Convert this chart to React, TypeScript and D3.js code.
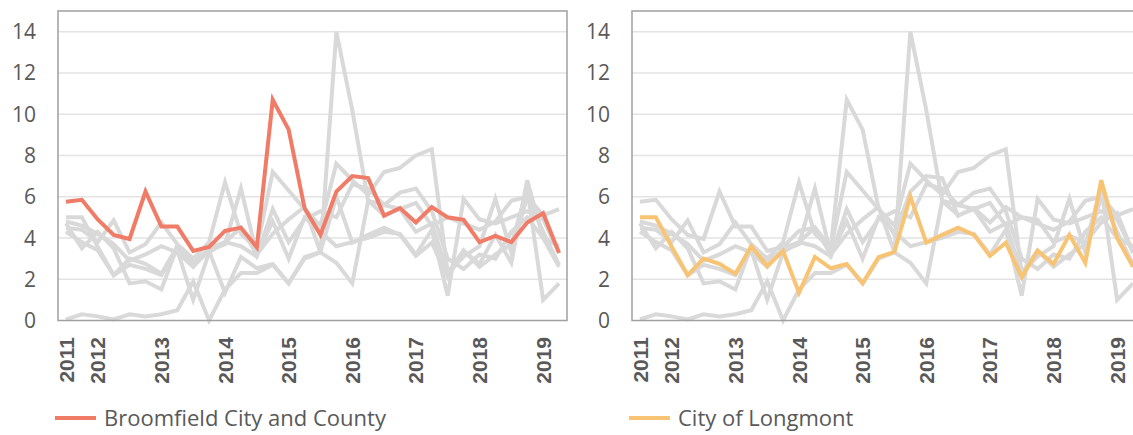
import React from "react";
import * as d3 from "d3";

const quarters = [
  "2011-Q3","2011-Q4",
  "2012-Q1","2012-Q2","2012-Q3","2012-Q4",
  "2013-Q1","2013-Q2","2013-Q3","2013-Q4",
  "2014-Q1","2014-Q2","2014-Q3","2014-Q4",
  "2015-Q1","2015-Q2","2015-Q3","2015-Q4",
  "2016-Q1","2016-Q2","2016-Q3","2016-Q4",
  "2017-Q1","2017-Q2","2017-Q3","2017-Q4",
  "2018-Q1","2018-Q2","2018-Q3","2018-Q4",
  "2019-Q1","2019-Q2",
];

const yTicks = [0, 2, 4, 6, 8, 10, 12, 14];

const broomfield = [5.75,5.85,4.9,4.15,3.95,6.25,4.55,4.55,3.37,3.57,4.34,4.5,3.55,10.7,9.25,5.45,4.15,6.25,7.0,6.9,5.07,5.45,4.75,5.5,5.0,4.88,3.8,4.1,3.8,4.75,5.2,3.27];
const longmont = [5.0,5.0,3.57,2.2,3.0,2.75,2.27,3.6,2.63,3.37,1.34,3.08,2.53,2.74,1.8,3.07,3.33,6.0,3.77,4.15,4.5,4.15,3.13,3.77,2.1,3.38,2.74,4.15,2.8,6.8,4.0,2.6];
const other1 = [4.8,4.6,4.2,3.7,2.9,3.2,3.6,3.3,2.6,3.5,3.8,3.6,3.1,5.4,3.8,4.9,5.3,5.0,6.6,6.4,5.6,6.2,6.4,5.3,3.0,2.5,3.2,3.0,4.3,5.0,4.0,3.6];
const other2 = [4.3,3.8,3.4,2.2,2.7,2.5,2.2,3.4,1.0,3.3,3.8,4.5,3.2,4.2,4.9,5.5,3.3,14.0,10.2,5.8,5.1,5.4,5.7,4.6,5.0,4.7,4.4,4.8,5.8,6.0,4.3,2.7];
const other3 = [0.05,0.3,0.2,0.05,0.3,0.2,0.3,0.5,1.9,0.0,1.5,2.3,2.3,2.7,1.8,3.0,3.3,2.8,1.8,5.8,5.6,5.4,4.3,4.7,2.3,3.4,2.6,3.2,3.7,6.4,1.0,1.8];
const other4 = [4.5,4.4,3.8,4.85,3.3,3.7,4.75,3.7,3.0,3.8,6.7,4.2,3.5,7.2,6.3,5.4,4.6,7.6,6.8,6.1,7.2,7.4,8.0,8.3,2.3,3.1,3.6,5.9,3.3,6.0,5.1,5.4];
const other5 = [4.7,3.5,4.3,3.5,1.8,1.9,1.5,3.6,2.9,3.4,3.7,6.4,3.2,4.8,3.0,5.0,4.3,3.6,3.8,4.0,4.3,4.2,3.2,4.4,1.2,5.9,4.9,4.7,5.0,5.3,4.9,3.3];

const seriesNames = ["Broomfield City and County", "City of Longmont", "A", "B", "C", "D", "E"];
const seriesValues = [broomfield, longmont, other1, other2, other3, other4, other5];

const panels = [
  { highlight: 0, color: "#f07b67", left: 58 },
  { highlight: 1, color: "#f8c373", left: 632 },
];

const PW = 509;
const TOP = 11;
const BOTTOM = 320.5;
const GRAY = "#d9d9d9";
const TEXT = "#595959";

function Panel({ highlight, color, left }: { highlight: number; color: string; left: number }) {
  const x = d3.scalePoint<number>().domain(d3.range(quarters.length)).range([left, left + PW]).padding(0.5);
  const y = d3.scaleLinear().domain([0, 15]).range([BOTTOM, TOP]);
  const line = d3.line<number>().x((_, i) => x(i) as number).y((d) => y(d));
  const labelIdx = quarters.map((q, i) => ({ q, i })).filter(({ q, i }) => i === 0 || q.endsWith("Q1"));
  return (
    <g>
      {yTicks.filter((t) => t > 0).map((t) => (
        <line key={t} x1={left} x2={left + PW} y1={y(t)} y2={y(t)} stroke="#e3e3e3" strokeWidth={1.5} />
      ))}
      {yTicks.map((t) => (
        <text key={t} x={left - 22} y={y(t)} dy="0.36em" textAnchor="end" fontFamily="Open Sans" fontSize={21} fill={TEXT}>
          {t}
        </text>
      ))}
      {seriesValues.map((vals, si) =>
        si === highlight ? null : (
          <path key={si} d={line(vals) || ""} fill="none" stroke={GRAY} strokeWidth={4} strokeLinejoin="miter" />
        )
      )}
      <path d={line(seriesValues[highlight]) || ""} fill="none" stroke={color} strokeWidth={4} strokeLinejoin="miter" />
      <rect x={left} y={TOP} width={PW} height={BOTTOM - TOP} fill="none" stroke="#a0a0a0" strokeWidth={1.5} />
      {labelIdx.map(({ q, i }) => (
        <text key={q} transform={`translate(${x(i)},337) rotate(-90)`} dy="0.36em" textAnchor="end" fontFamily="Liberation Sans" fontWeight="bold" fontSize={21} fill={TEXT}>
          {q.slice(0, 4)}
        </text>
      ))}
      <line x1={left - 3} x2={left + 38} y1={418} y2={418} stroke={color} strokeWidth={4} />
      <text x={left + 46} y={418} dy="0.36em" fontFamily="Open Sans" fontSize={22} fill={TEXT}>
        {seriesNames[highlight]}
      </text>
    </g>
  );
}

export default function App() {
  return (
    <svg width={1133} height={435} style={{ position: "absolute", left: 0, top: 0, background: "#fff" }}>
      {panels.map((p) => (
        <Panel key={p.highlight} {...p} />
      ))}
    </svg>
  );
}
